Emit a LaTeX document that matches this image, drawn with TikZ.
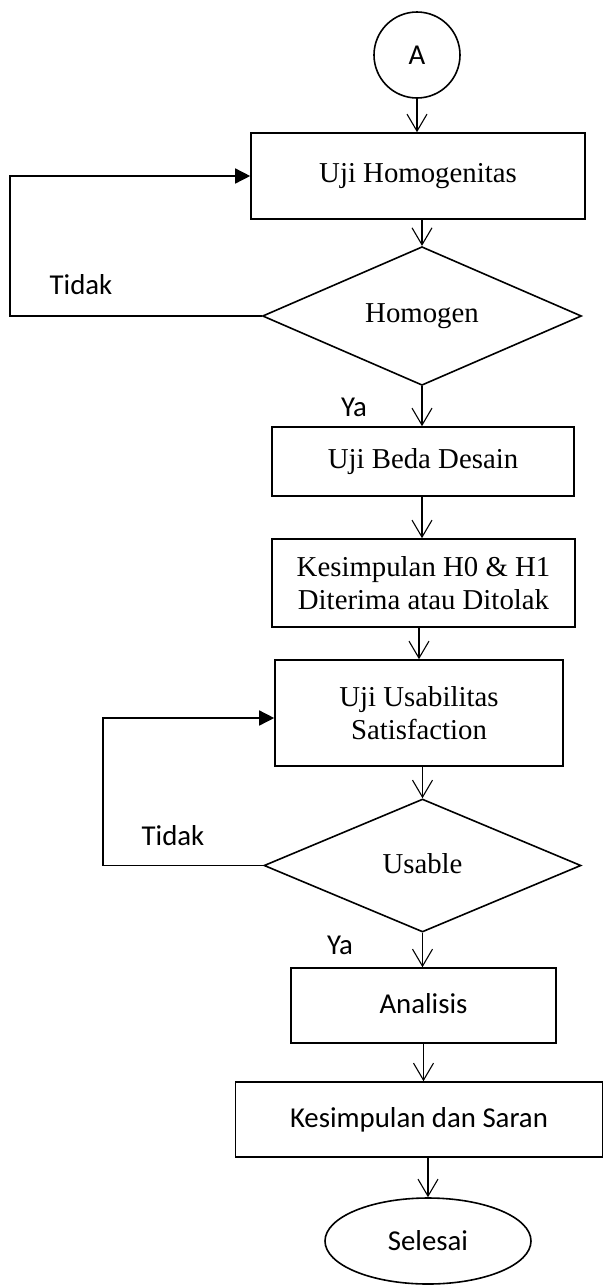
\documentclass[tikz,border=0pt]{standalone}
\usepackage{fontspec}
\setmainfont{Liberation Serif}
\newfontfamily\calib{Carlito}
\usetikzlibrary{arrows.meta,shapes.geometric}
\begin{document}
\begin{tikzpicture}[x=1pt,y=-1pt,
  serif/.style={font=\fontsize{28.8}{33}\selectfont},
  sans/.style={font=\calib\fontsize{28.8}{33}\selectfont},
  procbox/.style={draw,line width=1.6pt,rectangle,inner sep=0pt,align=center,serif},
  decision/.style={draw,line width=1.6pt,diamond,inner sep=0pt,serif},
  arr/.style={line width=1.1pt,-{Straight Barb[length=17pt,width=20pt,line width=1.1pt]}},
  fb/.style={line width=1.5pt,-{Triangle[length=15pt,width=15pt]}},
  lbl/.style={sans,inner sep=0pt}]
\fill[white] (0,0) rectangle (604,1285);
\useasboundingbox (0,0) rectangle (604,1285);

\node[draw,line width=1.6pt,circle,minimum size=86pt,inner sep=0pt,sans] (A) at (417,55) {A};
\node[procbox,minimum width=334pt,minimum height=86pt] (h1) at (418,176) {Uji Homogenitas};
\node[decision,minimum width=319pt,minimum height=132pt] (d1) at (422,316) {\raisebox{3pt}{Homogen}};
\node[procbox,minimum width=302pt,minimum height=69pt] (b2) at (423,461.5) {Uji Beda Desain};
\node[procbox,minimum width=303pt,minimum height=88pt] (b3) at (423.5,583) {Kesimpulan H0 \& H1\\Diterima atau Ditolak};
\node[procbox,minimum width=288pt,minimum height=106pt] (b4) at (419,713) {Uji Usabilitas\\Satisfaction};
\node[decision,minimum width=317pt,minimum height=133pt] (d2) at (422.5,865.5) {\raisebox{5pt}{Usable}};
\node[procbox,sans,minimum width=265pt,minimum height=75pt] (b5) at (423.5,1005.5) {\raisebox{5pt}{Analisis}};
\node[procbox,sans,minimum width=367pt,minimum height=75pt] (b6) at (419,1119.5) {\raisebox{4pt}{Kesimpulan dan Saran}};
\node[draw,line width=1.6pt,ellipse,minimum width=206pt,minimum height=86pt,inner sep=0pt,sans] (e) at (428,1241) {Selesai};

\node[lbl] (t1) at (81,285) {Tidak};
\node[lbl] (y1) at (354,407) {Ya};
\node[lbl] (t2) at (173,836) {Tidak};
\node[lbl] (y2) at (340,945) {Ya};

\coordinate (fb1) at (10,0);
\coordinate (fb2) at (103,0);

\draw[arr] (A.south) -- (A.south |- h1.north);
\draw[arr] (d1.north |- h1.south) -- (d1.north);
\draw[arr] (d1.south) -- (d1.south |- b2.north);
\draw[arr] (b2.south -| d1.south) -- (d1.south |- b3.north);
\draw[arr] (b4.north |- b3.south) -- (b4.north);
\draw[arr] (d2.north |- b4.south) -- (d2.north);
\draw[arr] (d2.south) -- (d2.south |- b5.north);
\draw[arr] (b5.south) -- (b5.south |- b6.north);
\draw[arr] (e.north |- b6.south) -- (e.north);

\draw[fb] (d1.west) -- (d1.west -| fb1) |- (h1.west);
\draw[fb] (d2.west) -- (d2.west -| fb2) |- ([yshift=-5pt]b4.west);
\end{tikzpicture}
\end{document}
